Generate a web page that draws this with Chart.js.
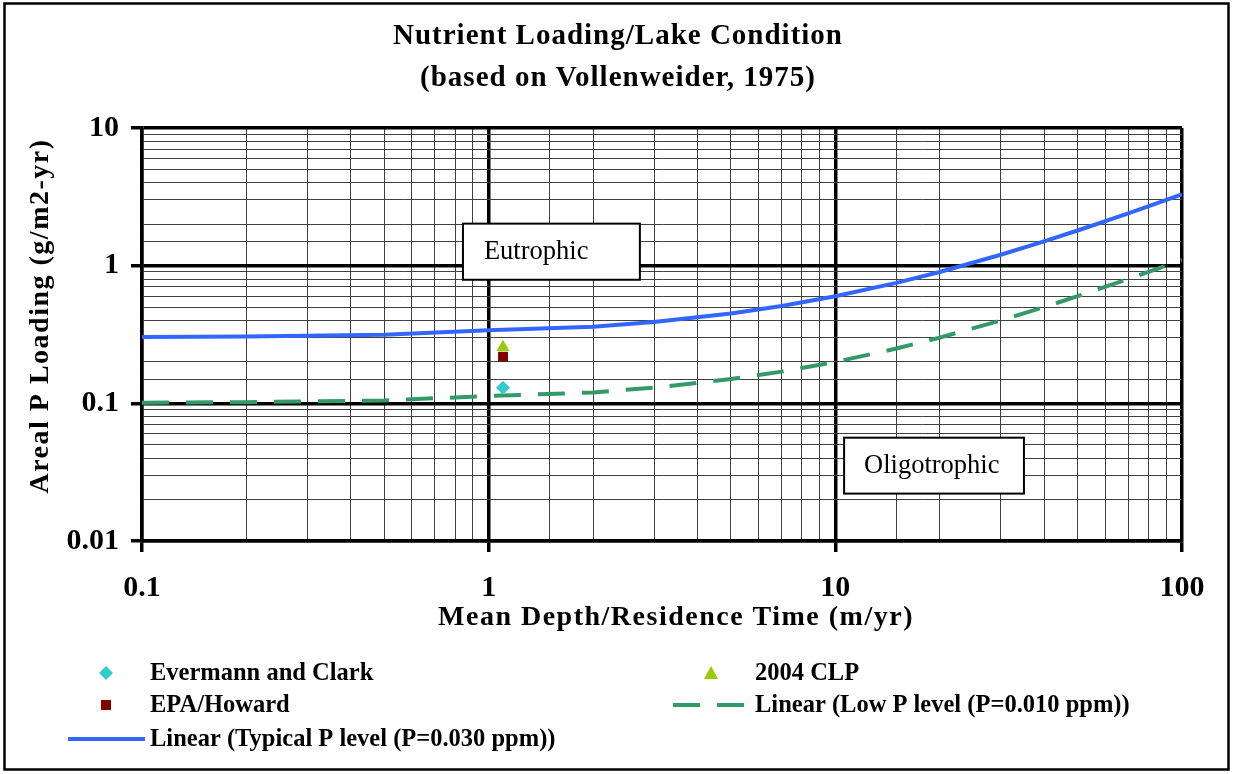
<!DOCTYPE html>
<html><head><meta charset="utf-8">
<script src="https://cdn.jsdelivr.net/npm/chart.js@4/dist/chart.umd.min.js"></script>
<style>html,body{margin:0;padding:0;background:#fff;overflow:hidden}canvas{display:block}</style>
</head><body>
<canvas id="c" width="1233" height="774"></canvas>
<script>
// ---- data ----
const titleLines = ['Nutrient Loading/Lake Condition', '(based on Vollenweider, 1975)'];
const xTitle = 'Mean Depth/Residence Time (m/yr)';
const yTitle = 'Areal P Loading (g/m2-yr)';
const xTickLabels = ['0.1', '1', '10', '100'];
const yTickLabels = ['0.01', '0.1', '1', '10'];
const regionLabels = ['Eutrophic', 'Oligotrophic'];

const lineX    = [0.1, 0.2, 0.5, 1, 2, 3, 5, 7, 10, 15, 20, 30, 40, 50, 70, 100];
const typicalY = [0.303, 0.306, 0.315, 0.34, 0.36, 0.39, 0.45, 0.51, 0.6, 0.75, 0.9, 1.2, 1.5, 1.8, 2.4, 3.3];
const lowY     = [0.101, 0.102, 0.105, 0.113, 0.12, 0.13, 0.15, 0.17, 0.2, 0.25, 0.3, 0.4, 0.5, 0.6, 0.8, 1.1];

const evermannX = [1.1];  const evermannY = [0.13];
const epaX      = [1.1];  const epaY      = [0.218];
const clpX      = [1.1];  const clpY      = [0.255];

const seriesNames = {
  evermann: 'Evermann and Clark',
  epa: 'EPA/Howard',
  clp: '2004 CLP',
  low: 'Linear (Low P level (P=0.010 ppm))',
  typical: 'Linear (Typical P level (P=0.030 ppm))'
};

// ---- helpers ----
const pts = (xs, ys) => xs.map((x, i) => ({x, y: ys[i]}));
const isMajor = v => { const l = Math.log10(v); return Math.abs(l - Math.round(l)) < 1e-6; };
const labelFor = (arr, v) => { const f = arr.find(s => Math.abs(parseFloat(s) - v) < 1e-9 * Math.max(1, v)); return f === undefined ? '' : f; };
const SERIF = "'Liberation Serif', 'Times New Roman', serif";
const C = {
  evermann: '#33CCCC', epa: '#800000', clp: '#99CC00', low: '#339966', typical: '#3366FF'
};

const gridCfg = {
  color: c => (c.tick && isMajor(c.tick.value)) ? '#000' : '#404040',
  lineWidth: c => (c.tick && isMajor(c.tick.value)) ? 3.5 : 1,
  tickColor: c => (c.tick && isMajor(c.tick.value)) ? '#000' : 'rgba(0,0,0,0)',
  tickWidth: c => (c.tick && isMajor(c.tick.value)) ? 3.5 : 1,
  tickLength: 11,
  drawTicks: true
};

const decorPlugin = {
  id: 'decor',
  beforeDatasetsDraw(chart) {
    const {ctx} = chart;
    const xs = chart.scales.x, ys = chart.scales.y;
    ctx.save();
    // region label boxes (anchored to data coordinates)
    const boxes = [
      {text: regionLabels[0], x0: 0.843, x1: 2.73, y0: 2.02, y1: 0.79, tx: 0.969},
      {text: regionLabels[1], x0: 10.6, x1: 35, y0: 0.0563, y1: 0.0221, tx: 12.1}
    ];
    boxes.forEach(b => {
      const l = xs.getPixelForValue(b.x0), r = xs.getPixelForValue(b.x1);
      const t = ys.getPixelForValue(b.y0), bt = ys.getPixelForValue(b.y1);
      ctx.fillStyle = '#fff';
      ctx.fillRect(l, t, r - l, bt - t);
      ctx.strokeStyle = '#000';
      ctx.lineWidth = 2;
      ctx.strokeRect(l, t, r - l, bt - t);
      ctx.fillStyle = '#000';
      ctx.font = '26.5px ' + SERIF;
      ctx.textBaseline = 'middle';
      ctx.textAlign = 'left';
      ctx.fillText(b.text, xs.getPixelForValue(b.tx), (t + bt) / 2);
    });
    ctx.restore();
  },
  afterDraw(chart) {
    const {ctx, width, height} = chart;
    ctx.save();
    // outer frame
    ctx.strokeStyle = '#000';
    ctx.lineWidth = 2.5;
    ctx.strokeRect(4.5, 3.5, width - 9, height - 8);
    // title
    ctx.fillStyle = '#000';
    ctx.textAlign = 'center';
    ctx.textBaseline = 'alphabetic';
    ctx.letterSpacing = '1px';
    ctx.font = 'bold 29px ' + SERIF;
    ctx.fillText(titleLines[0], 618, 44);
    ctx.fillText(titleLines[1], 618, 86);
    // axis titles
    ctx.letterSpacing = '1.5px';
    ctx.font = 'bold 28px ' + SERIF;
    ctx.textBaseline = 'middle';
    ctx.fillText(xTitle, 676, 618);
    ctx.save();
    ctx.translate(41, 316);
    ctx.rotate(-Math.PI / 2);
    ctx.fillText(yTitle, 0, 0);
    ctx.restore();
    ctx.letterSpacing = '0px';
    // legend
    ctx.font = 'bold 24.5px ' + SERIF;
    ctx.textAlign = 'left';
    ctx.textBaseline = 'middle';
    const row = [673, 705, 739];
    const text = (s, x, y) => { ctx.fillStyle = '#000'; ctx.fillText(s, x, y + 1); };
    // diamond
    ctx.fillStyle = C.evermann;
    ctx.beginPath(); ctx.moveTo(106, row[0] - 7); ctx.lineTo(113, row[0]); ctx.lineTo(106, row[0] + 7); ctx.lineTo(99, row[0]); ctx.closePath(); ctx.fill();
    text(seriesNames.evermann, 150, row[0]);
    // square
    ctx.fillStyle = C.epa;
    ctx.fillRect(101, row[1] - 5, 10, 10);
    text(seriesNames.epa, 150, row[1]);
    // typical line
    ctx.strokeStyle = C.typical; ctx.lineWidth = 4; ctx.setLineDash([]);
    ctx.beginPath(); ctx.moveTo(68, row[2]); ctx.lineTo(145, row[2]); ctx.stroke();
    text(seriesNames.typical, 150, row[2]);
    // triangle
    ctx.fillStyle = C.clp;
    ctx.beginPath(); ctx.moveTo(711, row[0] - 7); ctx.lineTo(718, row[0] + 6); ctx.lineTo(704, row[0] + 6); ctx.closePath(); ctx.fill();
    text(seriesNames.clp, 755, row[0]);
    // low dashed line
    ctx.strokeStyle = C.low; ctx.lineWidth = 4; ctx.setLineDash([27, 17]);
    ctx.beginPath(); ctx.moveTo(673, row[1]); ctx.lineTo(747, row[1]); ctx.stroke();
    ctx.setLineDash([]);
    text(seriesNames.low, 755, row[1]);
    ctx.restore();
  }
};

new Chart(document.getElementById('c'), {
  type: 'scatter',
  data: {
    datasets: [
      {label: seriesNames.epa, data: pts(epaX, epaY), order: 0, pointStyle: 'rect', pointRadius: 7, backgroundColor: C.epa, borderColor: C.epa, borderWidth: 0, showLine: false},
      {label: seriesNames.clp, data: pts(clpX, clpY), order: 1, pointStyle: 'triangle', pointRadius: 7.5, backgroundColor: C.clp, borderColor: C.clp, borderWidth: 0, showLine: false},
      {label: seriesNames.evermann, data: pts(evermannX, evermannY), order: 2, pointStyle: 'rectRot', pointRadius: 7, backgroundColor: C.evermann, borderColor: C.evermann, borderWidth: 0, showLine: false},
      {label: seriesNames.typical, data: pts(lineX, typicalY), order: 3, showLine: true, pointRadius: 0, borderColor: C.typical, borderWidth: 4, tension: 0, fill: false},
      {label: seriesNames.low, data: pts(lineX, lowY), order: 4, showLine: true, pointRadius: 0, borderColor: C.low, borderWidth: 4, borderDash: [27, 17], tension: 0, fill: false}
    ]
  },
  options: {
    responsive: false,
    animation: false,
    devicePixelRatio: 1,
    layout: {padding: {top: 128, right: 51, bottom: 139, left: 0}},
    plugins: {legend: {display: false}, tooltip: {enabled: false}, title: {display: false}},
    scales: {
      x: {
        type: 'logarithmic', min: 0.1, max: 100,
        afterFit: s => { s.height = 94; },
        grid: gridCfg,
        border: {display: true, color: '#000', width: 3.5},
        ticks: {autoSkip: false, maxRotation: 0, padding: 18, color: '#000',
          font: {family: SERIF, size: 30, weight: 'bold'},
          callback: v => isMajor(v) ? labelFor(xTickLabels, v) : ''},
        title: {display: false, text: xTitle}
      },
      y: {
        type: 'logarithmic', min: 0.01, max: 10,
        afterFit: s => { s.width = 142; },
        grid: gridCfg,
        border: {display: true, color: '#000', width: 3.5},
        ticks: {autoSkip: false, padding: 12, color: '#000',
          font: {family: SERIF, size: 30, weight: 'bold'},
          callback: v => isMajor(v) ? labelFor(yTickLabels, v) : ''},
        title: {display: false, text: yTitle}
      }
    }
  },
  plugins: [decorPlugin]
});
</script>
</body></html>
